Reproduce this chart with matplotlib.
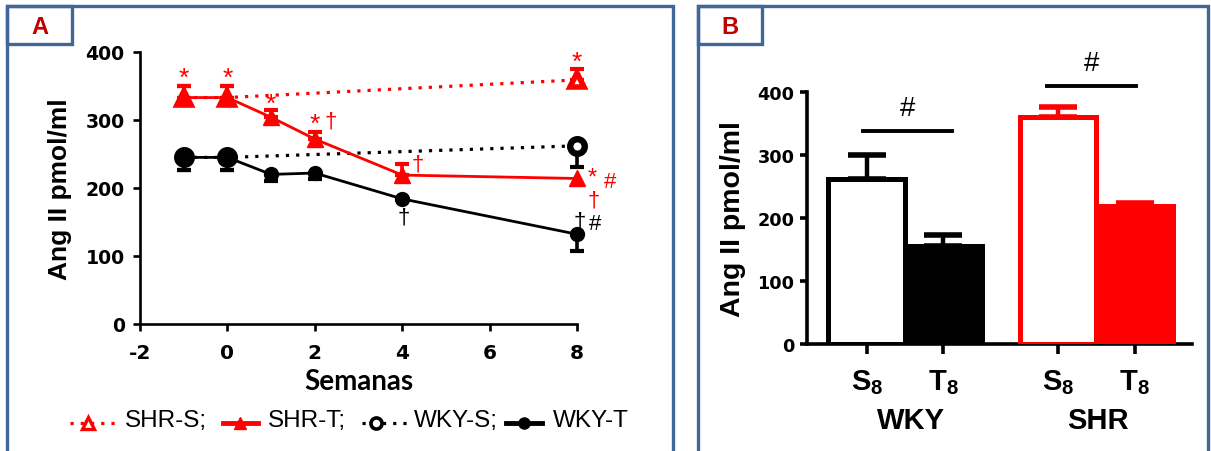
import numpy as np
import matplotlib
matplotlib.use("Agg")
import matplotlib.pyplot as plt
from matplotlib.patches import Rectangle
from matplotlib.lines import Line2D

plt.rcParams['axes.unicode_minus'] = False
plt.rcParams['mathtext.fontset'] = 'custom'
plt.rcParams['mathtext.rm'] = 'Liberation Sans'
plt.rcParams['mathtext.bf'] = 'Liberation Sans:bold'
plt.rcParams['font.family'] = ['Liberation Sans', 'DejaVu Sans']

RED = '#ff0000'
FRAME = '#41669a'
LABEL_RED = '#c00000'

# ---- Panel A data: Ang II over weeks ----
weeks_t = np.array([-1, 0, 1, 2, 4, 8])
shr_t = np.array([333, 333, 304, 272, 219, 214])
shr_t_err = np.array([17, 17, 10, 10, 16, 0])
wky_t = np.array([245, 245, 220, 222, 184, 132])
wky_t_err = np.array([19, 19, 9, 9, 0, 25])

weeks_s = np.array([-1, 0, 8])
shr_s = np.array([333, 333, 359])
shr_s_err = np.array([17, 17, 16])
wky_s = np.array([245, 245, 262])
wky_s_err = np.array([19, 19, 31])

x_ticks_a = [-2, 0, 2, 4, 6, 8]
y_ticks = [0, 100, 200, 300, 400]

# ---- Panel B data: week 8 values ----
bar_labels = [r'$\mathbf{S}_{\mathbf{8}}$', r'$\mathbf{T}_{\mathbf{8}}$',
              r'$\mathbf{S}_{\mathbf{8}}$', r'$\mathbf{T}_{\mathbf{8}}$']
bar_pos = np.array([0, 1, 2.5, 3.5])
bar_vals = np.array([262, 156, 360, 219])
bar_err = np.array([38, 17, 16, 5])
groups = ['WKY', 'SHR']

W, H = 1211, 452
fig = plt.figure(figsize=(W / 100, H / 100), dpi=100)


def fx(px):
    return px / W


def fy(py):
    return 1 - py / H


def frame(x0, x1, box_x1, letter):
    fig.add_artist(Rectangle((fx(x0), fy(470)), fx(x1 - x0), (470 - 7) / H,
                             transform=fig.transFigure, fill=False,
                             edgecolor=FRAME, lw=2.4, zorder=0))
    fig.add_artist(Rectangle((fx(x0), fy(45)), fx(box_x1 - x0), 38 / H,
                             transform=fig.transFigure, fill=False,
                             edgecolor=FRAME, lw=2.4, zorder=0))
    fig.text(fx((x0 + box_x1) / 2), fy(27), letter, color=LABEL_RED,
             fontsize=17, fontweight='bold', ha='center', va='center')


frame(7, 673, 72, 'A')
frame(698, 1208, 762, 'B')


def style_axes(ax, lw=1.9):
    for s in ['top', 'right']:
        ax.spines[s].set_visible(False)
    for s in ['left', 'bottom']:
        ax.spines[s].set_linewidth(lw)
    ax.tick_params(width=lw, length=5)


# ---------------- Panel A ----------------
axA = fig.add_axes([fx(140), fy(325), fx(577 - 140), (325 - 53) / H])
style_axes(axA)
axA.set_xlim(-2, 8)
axA.set_ylim(0, 400)

eb = dict(fmt='none', capsize=5, elinewidth=2.6, capthick=3, clip_on=False)

# SHR sham (dotted, open triangle)
axA.plot(weeks_s, shr_s, color=RED, ls=(0, (1, 2.2)), lw=2.3, marker='^',
         ms=10, mfc='white', mec=RED, mew=4.0, clip_on=False, zorder=3)
m = shr_s_err > 0
axA.errorbar(weeks_s[m], shr_s[m], yerr=[np.zeros(m.sum()), shr_s_err[m]],
             ecolor=RED, zorder=2, **eb)

# WKY sham (dotted, open circle)
axA.plot(weeks_s, wky_s, color='black', ls=(0, (1, 2.2)), lw=2.3, marker='o',
         ms=10.5, mfc='white', mec='black', mew=4.6, clip_on=False, zorder=3)
m = wky_s_err > 0
axA.errorbar(weeks_s[m], wky_s[m], yerr=[wky_s_err[m], np.zeros(m.sum())],
             ecolor='black', zorder=2, **eb)

# SHR treated (solid, filled triangle)
axA.plot(weeks_t, shr_t, color=RED, lw=2.0, marker='^', ms=11,
         mfc=RED, mec=RED, clip_on=False, zorder=4)
m = shr_t_err > 0
axA.errorbar(weeks_t[m], shr_t[m], yerr=[np.zeros(m.sum()), shr_t_err[m]],
             ecolor=RED, zorder=2, **eb)

# WKY treated (solid, filled circle)
axA.plot(weeks_t, wky_t, color='black', lw=2.0, marker='o', ms=10,
         mfc='black', mec='black', clip_on=False, zorder=4)
m = wky_t_err > 0
axA.errorbar(weeks_t[m], wky_t[m], yerr=[wky_t_err[m], np.zeros(m.sum())],
             ecolor='black', zorder=2, **eb)

axA.set_xticks(x_ticks_a, [str(v) for v in x_ticks_a])
axA.set_yticks(y_ticks, [str(v) for v in y_ticks])
for lab in axA.get_yticklabels():
    lab.set_fontfamily('DejaVu Sans')
    lab.set_fontweight('bold')
    lab.set_fontsize(13.6)
for lab in axA.get_xticklabels():
    lab.set_fontfamily('DejaVu Sans')
    lab.set_fontweight('bold')
    lab.set_fontsize(14.5)
axA.tick_params(axis='y', pad=6)
axA.tick_params(axis='x', pad=9)
axA.set_xlabel('Semanas', family='Lato', fontweight='bold', fontsize=20,
               labelpad=4)
axA.set_ylabel('Ang II pmol/ml', fontweight='bold', fontsize=19, labelpad=10)

# significance marks
star = dict(fontsize=19, ha='center', va='center', clip_on=False)
sig = dict(fontsize=16, ha='center', va='center', clip_on=False)
for xv, yv in [(-1, 362), (0, 362), (1, 324), (2, 295), (8, 386)]:
    axA.text(xv, yv, '*', color=RED, **star)
axA.text(8.34, 216, '*', color=RED, fontsize=17, ha='center', va='center',
         clip_on=False)
for xv, yv in [(2.37, 299), (4.35, 235), (8.39, 183)]:
    axA.text(xv, yv, '†', color=RED, **sig)
axA.text(8.75, 210, '#', color=RED, **sig)
axA.text(4.03, 157, '†', color='black', **sig)
axA.text(8.06, 151, '†', color='black', **sig)
axA.text(8.42, 148, '#', color='black', **sig)

# legend row
ly = fy(424)
leg = [
    (70, 118, 88, dict(color=RED, ls=(0, (1, 2.2)), lw=2.3, marker='^', ms=9,
                       mfc='white', mec=RED, mew=2.4), 125, 'SHR-S;'),
    (223, 258, 240, dict(color=RED, lw=3.5, marker='^', ms=9, mfc=RED, mec=RED),
     268, 'SHR-T;'),
    (362, 408, 376, dict(color='black', ls=(0, (1, 2.2)), lw=2.3, marker='o',
                         ms=8, mfc='white', mec='black', mew=2.6), 414, 'WKY-S;'),
    (506, 542, 524, dict(color='black', lw=3.5, marker='o', ms=8, mfc='black',
                         mec='black'), 553, 'WKY-T'),
]
for x0, x1, xm, kw, xt, txt in leg:
    mk = {k: kw[k] for k in ('marker', 'ms', 'mfc', 'mec', 'mew') if k in kw}
    ln = {k: kw[k] for k in ('color', 'ls', 'lw') if k in kw}
    fig.add_artist(Line2D([fx(x0), fx(x1)], [ly, ly], transform=fig.transFigure, **ln))
    fig.add_artist(Line2D([fx(xm)], [ly], transform=fig.transFigure, ls='none', **mk))
    fig.text(fx(xt), fy(421), txt, fontsize=17.5, ha='left', va='center')

# ---------------- Panel B ----------------
axB = fig.add_axes([fx(807), fy(345), fx(1192 - 807), (345 - 93) / H])
style_axes(axB, lw=2.6)
axB.set_xlim(-0.78, 4.25)
axB.set_ylim(0, 400)

faces = ['white', 'black', 'white', RED]
edges = ['black', 'black', RED, RED]
axB.bar(bar_pos, bar_vals, width=1.0, color=faces, edgecolor=edges,
        linewidth=3.6, zorder=3)
for xp, v, e, c in zip(bar_pos, bar_vals, bar_err, edges):
    axB.errorbar([xp], [v], yerr=[[0], [e]], fmt='none', ecolor=c,
                 elinewidth=3.2, capsize=14, capthick=4, zorder=2,
                 clip_on=False)

axB.set_xticks(bar_pos, bar_labels)
for lab in axB.get_xticklabels():
    lab.set_fontsize(21)
axB.tick_params(axis='x', length=7, pad=10)
axB.set_yticks(y_ticks, [str(v) for v in y_ticks])
for lab in axB.get_yticklabels():
    lab.set_fontfamily('DejaVu Sans')
    lab.set_fontweight('bold')
    lab.set_fontsize(12.7)
axB.tick_params(axis='y', pad=4)
axB.set_ylabel('Ang II pmol/ml', fontweight='bold', fontsize=20.5, labelpad=8)

for gx, g in zip([0.575, 3.02], groups):
    axB.text(gx, -120, g, fontsize=21, fontweight='bold', ha='center',
             va='center', clip_on=False)

# comparison brackets
for x0, x1, yl in [(-0.05, 1.11, 338), (2.36, 3.52, 410)]:
    axB.plot([x0, x1], [yl, yl], color='black', lw=2.8, clip_on=False)
    axB.text((x0 + x1) / 2, yl + 36, '#', fontsize=20, ha='center',
             va='center', clip_on=False)

fig.savefig('out.png', dpi=100)
